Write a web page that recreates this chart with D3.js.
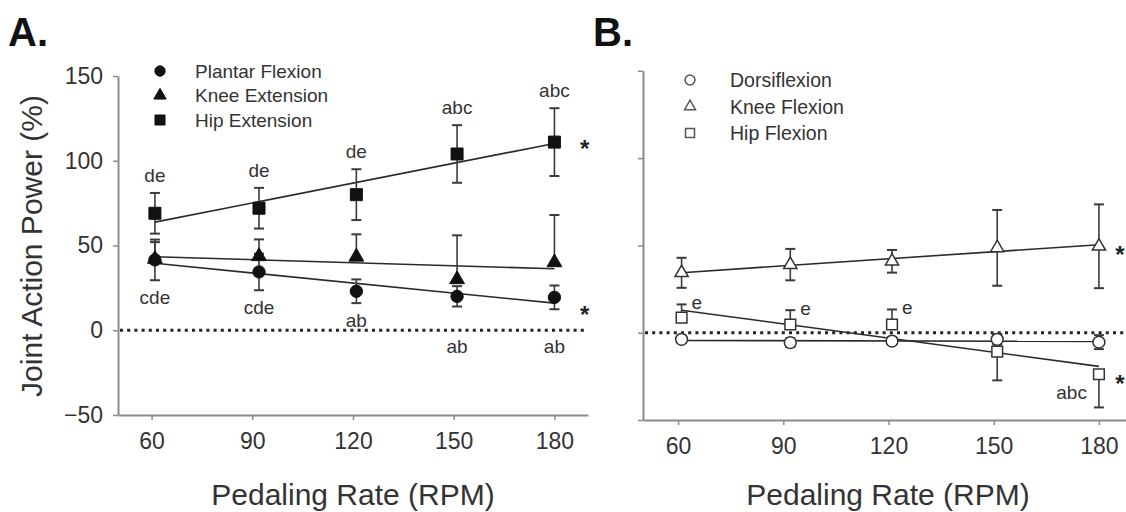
<!DOCTYPE html>
<html>
<head>
<meta charset="utf-8">
<script src="https://cdn.jsdelivr.net/npm/d3@7/dist/d3.min.js"></script>
<style>
  html, body { margin: 0; padding: 0; background: #fff; }
  svg { display: block; font-family: "Liberation Sans", Arial, Helvetica, sans-serif; }
</style>
</head>
<body>
<svg id="chart" width="1126" height="512"></svg>
<script>
// ---------- data ----------
const rpm = [61, 92, 121, 151, 180];          // measured pedaling rates
const xTicks = [60, 90, 120, 150, 180];
const yTicks = [-50, 0, 50, 100, 150];

// Panel A (extension actions, filled markers)
const plantarMean = [41.5, 34.4, 23.0, 20.0, 19.4];
const plantarSD   = [12.0, 10.8, 7.0, 6.0, 7.0];
const plantarSig  = ["cde", "cde", "ab", "ab", "ab"];

const kneeExtMean = [42.0, 43.6, 43.3, 30.0, 40.0];
const kneeExtSD   = [10.0, 10.0, 13.3, 26.0, 28.0];

const hipExtMean  = [69.0, 72.0, 80.0, 104.0, 111.0];
const hipExtSD    = [12.0, 12.0, 15.0, 17.0, 20.0];
const hipExtSig   = ["de", "de", "de", "abc", "abc"];

// Panel B (flexion actions, open markers)
const dorsiMean   = [-3.8, -5.7, -4.8, -3.8, -5.4];
const dorsiSD     = [2.0, 2.5, 2.0, 3.0, 4.0];

const kneeFlxMean = [34.3, 39.0, 40.9, 48.6, 49.5];
const kneeFlxSD   = [8.6, 9.0, 6.5, 21.7, 24.0];

const hipFlxMean  = [8.6, 4.7, 4.7, -10.9, -23.8];
const hipFlxSD    = [7.6, 8.2, 8.6, 16.4, 19.0];
const hipFlxSig   = ["e", "e", "e", "", "abc"];

const legendA = ["Plantar Flexion", "Knee Extension", "Hip Extension"];
const legendB = ["Dorsiflexion", "Knee Flexion", "Hip Flexion"];

// ---------- drawing ----------
const svg = d3.select("#chart");
const AXIS = "#8c8c8c", INK = "#2a2a2a", TXT = "#333";

function fit(xs, ys) {
  const mx = d3.mean(xs), my = d3.mean(ys);
  let sxy = 0, sxx = 0;
  xs.forEach((x, i) => { sxy += (x - mx) * (ys[i] - my); sxx += (x - mx) * (x - mx); });
  const b = sxy / sxx, a = my - b * mx;
  return x => a + b * x;
}

function panel(cfg) {
  const x = d3.scaleLinear().domain([50, 190]).range(cfg.xr);
  const y = d3.scaleLinear().domain([-50, 150]).range(cfg.yr);
  const g = svg.append("g");

  // axes
  const ya = d3.axisLeft(y).tickValues(yTicks).tickSize(5).tickSizeOuter(0).tickPadding(10);
  if (!cfg.yLabels) ya.tickFormat("");
  const gy = g.append("g").attr("transform", `translate(${cfg.xr[0]},0)`).call(ya);
  const xa = d3.axisBottom(x).tickValues(xTicks).tickSize(5).tickSizeOuter(0).tickPadding(13);
  const gx = g.append("g").attr("transform", `translate(0,${cfg.yr[0]})`).call(xa);
  [gx, gy].forEach(a => {
    a.selectAll("path.domain").attr("stroke", AXIS).attr("stroke-width", 2);
    a.selectAll(".tick line").attr("stroke", AXIS).attr("stroke-width", 1.5);
    a.selectAll(".tick text").attr("fill", TXT).style("font-size", "23px");
  });

  // zero line
  g.append("line")
    .attr("x1", x(50) + 2).attr("x2", Math.min(x(190), 1126)).attr("y1", y(0)).attr("y2", y(0))
    .attr("stroke", "#222").attr("stroke-width", 3).attr("stroke-dasharray", "3,4.2");

  // series
  cfg.series.forEach(s => {
    const f = fit(rpm, s.mean);
    g.append("line")
      .attr("x1", x(rpm[0])).attr("x2", x(rpm[rpm.length - 1]))
      .attr("y1", y(f(rpm[0]))).attr("y2", y(f(rpm[rpm.length - 1])))
      .attr("stroke", INK).attr("stroke-width", 1.6);

    rpm.forEach((r, i) => {
      const m = s.mean[i], sd = s.sd[i];
      const ends = [];
      if (s.bars === "both") ends.push(m + sd, m - sd);
      else if (s.bars === "up") ends.push(m + sd);
      else if (s.bars === "away") ends.push(m >= 0 ? m + sd : m - sd);
      ends.forEach(e => {
        g.append("line").attr("x1", x(r)).attr("x2", x(r)).attr("y1", y(m)).attr("y2", y(e))
          .attr("stroke", "#3a3a3a").attr("stroke-width", 1.6);
        g.append("line").attr("x1", x(r) - 5).attr("x2", x(r) + 5).attr("y1", y(e)).attr("y2", y(e))
          .attr("stroke", "#3a3a3a").attr("stroke-width", 2);
      });
    });
  });
  cfg.series.forEach(s => {
    rpm.forEach((r, i) => {
      g.append("path")
        .attr("d", d3.symbol().type(s.shape).size(s.size)())
        .attr("transform", `translate(${x(r)},${y(s.mean[i])})`)
        .attr("fill", s.open ? "#fff" : "#111")
        .attr("stroke", s.open ? "#333" : "#111").attr("stroke-width", s.open ? 1.5 : 1);
    });
  });

  // legend
  cfg.legend.forEach((name, i) => {
    const s = cfg.series[i];
    const ly = cfg.legendY + i * cfg.legendDy;
    g.append("path")
      .attr("d", d3.symbol().type(s.shape).size(s.size * 0.7)())
      .attr("transform", `translate(${cfg.legendX},${ly})`)
      .attr("fill", s.open ? "#fff" : "#111")
      .attr("stroke", s.open ? "#555" : "#111").attr("stroke-width", s.open ? 1.5 : 1);
    g.append("text").attr("x", cfg.legendX + cfg.legendGap).attr("y", ly)
      .attr("dy", "0.36em").attr("fill", TXT).style("font-size", cfg.legendFont).text(name);
  });

  return { x, y, g };
}

// Panel A
const A = panel({
  xr: [118, 588], yr: [415, 76], yLabels: true,
  legend: legendA, legendX: 160, legendY: 71, legendDy: 24.5, legendGap: 35, legendFont: "19px",
  series: [
    { mean: plantarMean, sd: plantarSD, shape: d3.symbolCircle, size: 120, open: false, bars: "both" },
    { mean: kneeExtMean, sd: kneeExtSD, shape: d3.symbolTriangle, size: 95, open: false, bars: "up" },
    { mean: hipExtMean, sd: hipExtSD, shape: d3.symbolSquare, size: 144, open: false, bars: "both" }
  ]
});

// Panel B
const B = panel({
  xr: [643, 1134], yr: [420, 70.8], yLabels: false,
  legend: legendB, legendX: 690, legendY: 80, legendDy: 26.5, legendGap: 40, legendFont: "19.5px",
  series: [
    { mean: dorsiMean, sd: dorsiSD, shape: d3.symbolCircle, size: 110, open: true, bars: "both" },
    { mean: kneeFlxMean, sd: kneeFlxSD, shape: d3.symbolTriangle, size: 75, open: true, bars: "both" },
    { mean: hipFlxMean, sd: hipFlxSD, shape: d3.symbolSquare, size: 115, open: true, bars: "away" }
  ]
});

// significance letters (panel A)
const SIGFONT = "19px";
hipExtSig.forEach((t, i) => {
  const cap = A.y(hipExtMean[i] + hipExtSD[i]);
  A.g.append("text").attr("x", A.x(rpm[i])).attr("y", cap - 11)
    .attr("text-anchor", "middle").attr("fill", TXT).style("font-size", SIGFONT).text(t);
});
plantarSig.forEach((t, i) => {
  const cap = A.y(plantarMean[i] - plantarSD[i]);
  let cy = cap + 17;                         // centre of the label
  if (cy + 8 > A.y(0)) cy = A.y(0) + 16;     // keep clear of the dotted zero line
  A.g.append("text").attr("x", A.x(rpm[i])).attr("y", cy).attr("dy", "0.35em")
    .attr("text-anchor", "middle").attr("fill", TXT).style("font-size", SIGFONT).text(t);
});
// Hip flexion letters: "e" beside the upper caps, "abc" left of the last point
hipFlxSig.forEach((t, i) => {
  if (!t) return;
  const up = hipFlxMean[i] >= 0;
  const v = up ? hipFlxMean[i] + hipFlxSD[i] : hipFlxMean[i] - hipFlxSD[i] * 0.5;
  B.g.append("text")
    .attr("x", B.x(rpm[i]) + (up ? 10 : -12)).attr("y", B.y(v) + (up ? 5 : 8))
    .attr("text-anchor", up ? "start" : "end")
    .attr("fill", TXT).style("font-size", SIGFONT).text(t);
});

// trend significance asterisks
function star(P, xv, yv) {
  P.g.append("text").attr("x", P.x(xv)).attr("y", P.y(yv)).attr("dy", "0.7em")
    .attr("text-anchor", "middle").attr("fill", "#222")
    .style("font-size", "24px").style("font-weight", "bold").text("*");
}
star(A, 189, fit(rpm, hipExtMean)(180) + 2);
star(A, 189, fit(rpm, plantarMean)(180) - 2);
star(B, 186, fit(rpm, kneeFlxMean)(180) - 1);
star(B, 186, fit(rpm, hipFlxMean)(180) - 5);

// panel letters
svg.append("text").attr("x", 8).attr("y", 46).style("font-size", "40px").style("font-weight", "bold").attr("fill", "#111").text("A.");
svg.append("text").attr("x", 593).attr("y", 46).style("font-size", "40px").style("font-weight", "bold").attr("fill", "#111").text("B.");

// axis titles
svg.append("text").attr("transform", "translate(42,246) rotate(-90)").attr("text-anchor", "middle")
  .attr("fill", TXT).style("font-size", "30px").text("Joint Action Power (%)");
svg.append("text").attr("x", 353).attr("y", 505).attr("text-anchor", "middle")
  .attr("fill", TXT).style("font-size", "30px").text("Pedaling Rate (RPM)");
svg.append("text").attr("x", 888).attr("y", 505).attr("text-anchor", "middle")
  .attr("fill", TXT).style("font-size", "30px").text("Pedaling Rate (RPM)");
</script>
</body>
</html>
